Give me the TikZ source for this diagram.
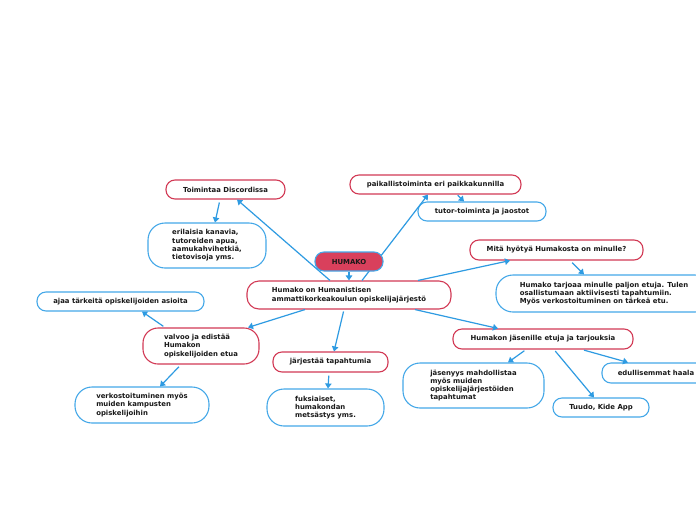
\documentclass[tikz,border=0pt]{standalone}
\usepackage{fontspec}
\setmainfont{DejaVu Sans}
\usetikzlibrary{arrows.meta}
\definecolor{redb}{HTML}{D23A55}
\definecolor{blueb}{HTML}{45A8E8}
\definecolor{linec}{HTML}{2E9BE2}
\definecolor{humfill}{HTML}{D9405C}
\tikzset{
  base/.style={rounded corners=9pt, line width=1.1pt, inner sep=0pt, align=left,
    font=\bfseries\fontsize{6.9}{8.3}\selectfont, text=black!90},
  redbox/.style={base, draw=redb, fill=white},
  bluebox/.style={base, draw=blueb, fill=white},
  bigblue/.style={bluebox, rounded corners=17pt},
  conn/.style={draw=linec, line width=1.2pt, -{Triangle[length=5pt,width=6.5pt]}},
}
\begin{document}
\begin{tikzpicture}[x=1pt,y=-1pt]
\useasboundingbox (0,0) rectangle (696,520);
\clip (0,0) rectangle (696,520);
\fill[white] (0,0) rectangle (696,520);
% nodes
\node[redbox, rounded corners=12pt, minimum width=204pt, minimum height=28pt] (main) at (349,295)
  {Humako on Humanistisen\\ammattikorkeakoulun opiskelijajärjestö};
\node[redbox, minimum width=119pt, minimum height=19pt] (discord) at (225.5,189.5) {Toimintaa Discordissa};
\node[bigblue, minimum width=118pt, minimum height=45pt] (kanavia) at (207,245.5)
  {erilaisia kanavia,\\tutoreiden apua,\\aamukahvihetkiä,\\tietovisoja yms.};
\node[redbox, minimum width=171pt, minimum height=19pt] (paikall) at (435.5,184.5) {paikallistoiminta eri paikkakunnilla};
\node[bluebox, minimum width=128pt, minimum height=19pt] (tutor) at (482,211.5) {tutor-toiminta ja jaostot};
\node[redbox, minimum width=173pt, minimum height=20pt] (hyoty) at (556.5,250) {Mitä hyötyä Humakosta on minulle?};
\node[bigblue, minimum width=216pt, minimum height=37pt] (tarjoaa) at (604,293.5)
  {Humako tarjoaa minulle paljon etuja. Tulen\\osallistumaan aktiivisesti tapahtumiin.\\Myös verkostoituminen on tärkeä etu.};
\node[bluebox, minimum width=167pt, minimum height=19pt] (ajaa) at (120.5,301.5) {ajaa tärkeitä opiskelijoiden asioita};
\node[redbox, rounded corners=15pt, minimum width=116pt, minimum height=36pt] (valvoo) at (201,346)
  {valvoo ja edistää\\Humakon\\opiskelijoiden etua};
\node[bigblue, minimum width=134pt, minimum height=36pt] (verkosto) at (142,405)
  {verkostoituminen myös\\muiden kampusten\\opiskelijoihin};
\node[redbox, minimum width=115pt, minimum height=20pt] (jarjestaa) at (330.5,362) {järjestää tapahtumia};
\node[bigblue, minimum width=117pt, minimum height=37pt] (fuksi) at (325.5,407.5)
  {fuksiaiset,\\humakondan\\metsästys yms.};
\node[redbox, minimum width=180pt, minimum height=20pt] (jasen) at (543,339) {Humakon jäsenille etuja ja tarjouksia};
\node[bigblue, minimum width=141pt, minimum height=45pt] (jasenyys) at (473.5,385.5)
  {jäsenyys mahdollistaa\\myös muiden\\opiskelijajärjestöiden\\tapahtumat};
\node[bluebox, minimum width=96pt, minimum height=19pt] (tuudo) at (601,407.5) {Tuudo, Kide App};
\node[bluebox, minimum width=108pt, minimum height=20pt] (edull) at (656,373) {edullisemmat haala};
% connectors (behind HUMAKO)
\draw[conn] ([xshift=-19pt]main.north) -- ([xshift=11.5pt]discord.south);
\draw[conn] ([xshift=13pt]main.north) -- ([xshift=-7.5pt]paikall.south);
\node[base, draw=blueb, fill=humfill, minimum width=68pt, minimum height=19pt] (humako) at (349,261.5) {HUMAKO};
\draw[conn] (humako.south) -- (main.north);
\draw[conn, shorten <=1pt] ([xshift=21.5pt]paikall.south) -- ([xshift=-18pt]tutor.north);
\draw[conn, shorten <=3pt] ([xshift=-5.5pt]discord.south) -- ([xshift=8pt]kanavia.north);
\draw[conn] ([xshift=69pt]main.north) -- ([xshift=-46.5pt]hyoty.south);
\draw[conn, shorten <=3pt] ([xshift=13.5pt]hyoty.south) -- ([xshift=-20pt]tarjoaa.north);
\draw[conn] ([xshift=-44pt]main.south) -- ([xshift=47pt]valvoo.north);
\draw[conn, shorten <=2pt] ([xshift=-36pt]valvoo.north) -- ([xshift=21.5pt]ajaa.south);
\draw[conn, shorten <=3pt] ([xshift=-20pt]valvoo.south) -- ([xshift=18pt]verkosto.north);
\draw[conn, shorten <=2pt] ([xshift=-5pt]main.south) -- ([xshift=3.5pt]jarjestaa.north);
\draw[conn, shorten <=3pt] ([xshift=-1.5pt]jarjestaa.south) -- ([xshift=2.5pt]fuksi.north);
\draw[conn] ([xshift=66pt]main.south) -- ([xshift=-45pt]jasen.north);
\draw[conn, shorten <=2pt] ([xshift=-17pt]jasen.south) -- ([xshift=34.5pt]jasenyys.north);
\draw[conn, shorten <=2pt] ([xshift=11pt]jasen.south) -- ([xshift=-7pt]tuudo.north);
\draw[conn, shorten <=2pt] ([xshift=39pt]jasen.south) -- ([xshift=-28pt]edull.north);
\end{tikzpicture}
\end{document}
